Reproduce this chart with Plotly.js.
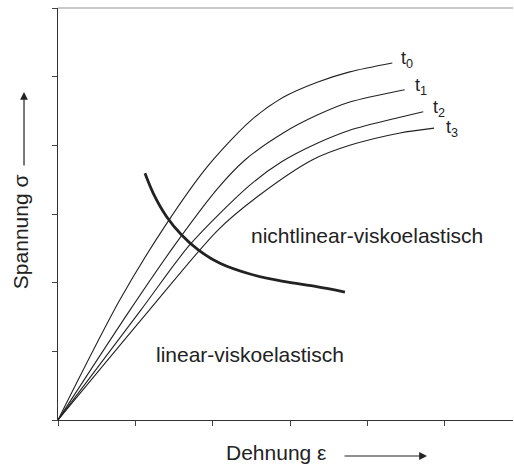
<!DOCTYPE html>
<html>
<head>
<meta charset="utf-8">
<script src="https://cdn.plot.ly/plotly-3.0.1.min.js"></script>
<style>html,body{margin:0;padding:0;background:#fff;}#chart{width:514px;height:468px;}</style>
</head>
<body>
<div id="chart"></div>
<script>
// Strain (x) and stress (y) values, in axis units
var t0_x = [0, 0.80, 1.38, 1.93, 2.48, 2.91, 3.35, 3.77, 4.32];
var t0_y = [0, 1.75, 2.82, 3.69, 4.35, 4.70, 4.92, 5.07, 5.20];
var t1_x = [0, 0.93, 1.51, 2.07, 2.42, 2.91, 3.35, 3.77, 4.48];
var t1_y = [0, 1.60, 2.55, 3.38, 3.79, 4.18, 4.44, 4.63, 4.81];
var t2_x = [0, 1.07, 1.71, 2.48, 2.89, 3.35, 3.77, 4.42, 4.72];
var t2_y = [0, 1.60, 2.56, 3.42, 3.76, 4.03, 4.22, 4.41, 4.49];
var t3_x = [0, 1.18, 2.07, 2.61, 3.29, 3.77, 4.42, 4.86];
var t3_y = [0, 1.60, 2.77, 3.28, 3.79, 4.00, 4.18, 4.25];
var limit_x = [1.124, 1.231, 1.404, 1.598, 1.813, 2.093, 2.481, 2.911, 3.342, 3.708];
var limit_y = [3.593, 3.302, 2.961, 2.694, 2.476, 2.282, 2.126, 2.019, 1.942, 1.864];
var curveLabels = ['t<sub>0</sub>', 't<sub>1</sub>', 't<sub>2</sub>', 't<sub>3</sub>'];
var curveLabel_x = [4.41, 4.59, 4.82, 4.99];
var curveLabel_y = [5.25, 4.85, 4.54, 4.25];
var regionLabels = ['nichtlinear-viskoelastisch', 'linear-viskoelastisch'];
var regionLabel_x = [2.47, 1.24];
var regionLabel_y = [2.68, 0.96];
var xTicks = [0, 1, 2, 3, 4, 5];
var yTicks = [0, 1, 2, 3, 4, 5, 6];
var xTitle = 'Dehnung ε';
var yTitle = 'Spannung σ';

var ink = '#222222';
var FONT = 'Liberation Sans, Arial, sans-serif';

function thin(x, y) {
  return {x: x, y: y, mode: 'lines', type: 'scatter', hoverinfo: 'skip',
    line: {color: ink, width: 1.1, shape: 'spline', smoothing: 0.8}};
}
var traces = [thin(t0_x, t0_y), thin(t1_x, t1_y), thin(t2_x, t2_y), thin(t3_x, t3_y),
  {x: limit_x, y: limit_y, mode: 'lines', type: 'scatter', hoverinfo: 'skip',
   line: {color: ink, width: 2.8, shape: 'spline', smoothing: 0.9}}];

var annotations = [];
for (var i = 0; i < curveLabels.length; i++) {
  annotations.push({x: curveLabel_x[i], y: curveLabel_y[i], xref: 'x', yref: 'y',
    text: curveLabels[i], showarrow: false, xanchor: 'left', yanchor: 'middle',
    font: {family: FONT, size: 18, color: ink}});
}
for (var j = 0; j < regionLabels.length; j++) {
  annotations.push({x: regionLabel_x[j], y: regionLabel_y[j], xref: 'x', yref: 'y',
    text: regionLabels[j], showarrow: false, xanchor: 'left', yanchor: 'middle',
    font: {family: FONT, size: 21, color: ink}});
}
// axis titles
annotations.push({x: 0.365, y: -0.080, xref: 'paper', yref: 'paper', text: xTitle,
  showarrow: false, xanchor: 'left', yanchor: 'middle', font: {family: FONT, size: 21, color: ink}});
annotations.push({x: -0.0835, y: 0.456, xref: 'paper', yref: 'paper', text: yTitle,
  textangle: -90, showarrow: false, xanchor: 'center', yanchor: 'middle', font: {family: FONT, size: 21, color: ink}});
// arrows next to titles
annotations.push({x: 0.811, y: -0.0874, xref: 'paper', yref: 'paper', text: '',
  showarrow: true, ax: -84, ay: 0, arrowhead: 2, arrowsize: 1.3, arrowwidth: 1.2, arrowcolor: ink});
annotations.push({x: -0.0747, y: 0.796, xref: 'paper', yref: 'paper', text: '',
  showarrow: true, ax: 0, ay: 75, arrowhead: 2, arrowsize: 1.3, arrowwidth: 1.2, arrowcolor: ink});

var layout = {
  width: 514, height: 468,
  margin: {l: 58, r: 1, t: 8, b: 48},
  paper_bgcolor: '#fff', plot_bgcolor: '#fff',
  showlegend: false,
  xaxis: {range: [0, 5.88], tickmode: 'array', tickvals: xTicks, ticktext: xTicks.map(function(){return '';}),
    ticks: 'outside', ticklen: 5, tickwidth: 1, tickcolor: '#444', showgrid: false, zeroline: false,
    showline: true, linecolor: '#333', linewidth: 1.3, fixedrange: true},
  yaxis: {range: [0, 6], tickmode: 'array', tickvals: yTicks, ticktext: yTicks.map(function(){return '';}),
    ticks: 'outside', ticklen: 5, tickwidth: 1, tickcolor: '#444', showgrid: false, zeroline: false,
    showline: true, linecolor: '#333', linewidth: 1.3, fixedrange: true},
  shapes: [{type: 'line', xref: 'paper', yref: 'paper', x0: 0, x1: 1, y0: 1, y1: 1,
    line: {color: '#b8b8b8', width: 1.5}}],
  annotations: annotations
};
Plotly.newPlot('chart', traces, layout, {displayModeBar: false, staticPlot: true});
</script>
</body>
</html>
